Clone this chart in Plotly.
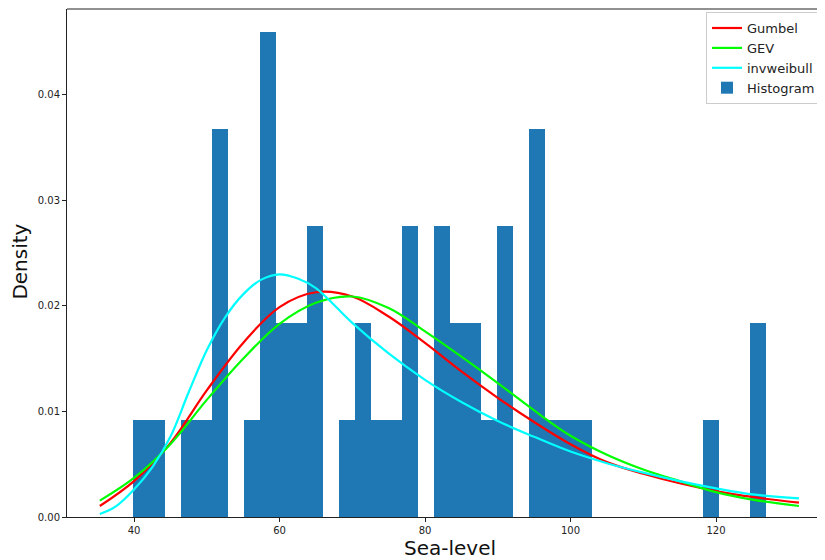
import plotly.graph_objects as go

# ---- data ----
n_samples = 50
data_min = 39.9
data_max = 126.9
bin_counts = [1, 1, 0, 1, 1, 4, 0, 1, 5, 2,
              2, 3, 0, 1, 2, 1, 1, 3, 0, 3,
              2, 2, 1, 3, 0, 4, 1, 1, 1, 0,
              0, 0, 0, 0, 0, 0, 1, 0, 0, 2]

fit_x = [35.3, 40, 45, 50, 55, 60, 65, 70, 75, 80, 85, 90, 95, 100,
         105, 110, 115, 120, 125, 131.4]
gumbel_y = [0.00104, 0.0034, 0.0070, 0.0120, 0.0165, 0.0199, 0.0213, 0.0209,
            0.0190, 0.0165, 0.0138, 0.0113, 0.0090, 0.0069, 0.0052, 0.0041,
            0.0032, 0.00246, 0.0019, 0.00136]
gev_y = [0.00155, 0.0037, 0.0069, 0.0111, 0.0150, 0.0183, 0.0203, 0.0209,
         0.0198, 0.0176, 0.0152, 0.0127, 0.0101, 0.0077, 0.0059, 0.0045,
         0.0034, 0.00236, 0.00165, 0.00104]

invweibull_x = [35.3, 37.5, 40, 42.5, 45, 47.5, 50, 52.5, 55, 57.5, 60, 62.5, 65,
                70, 75, 80, 85, 90, 95, 100, 105, 110, 115, 120, 125, 131.4]
invweibull_y = [0.00028, 0.0010, 0.0026, 0.0047, 0.0076, 0.0118, 0.0158, 0.0189,
                0.0211, 0.0225, 0.0230, 0.0226, 0.0217, 0.0184, 0.0155, 0.0130,
                0.0109, 0.0091, 0.0076, 0.0062, 0.0051, 0.0042, 0.0034, 0.00272,
                0.00215, 0.00177]

x_ticks = [40, 60, 80, 100, 120]
y_ticks = [0.00, 0.01, 0.02, 0.03, 0.04]

# ---- histogram geometry (density) ----
n_bins = len(bin_counts)
bin_w = (data_max - data_min) / n_bins
centers = [data_min + bin_w * (i + 0.5) for i in range(n_bins)]
density = [c / (n_samples * bin_w) for c in bin_counts]

FONT = "DejaVu Sans"
fig = go.Figure()

fig.add_trace(go.Bar(
    x=centers, y=density, width=[bin_w] * n_bins,
    marker=dict(color="#1f77b4", line=dict(width=0)),
    name="Histogram", legendrank=4,
))
fig.add_trace(go.Scatter(x=fit_x, y=gumbel_y, mode="lines", name="Gumbel",
                         line=dict(color="#ff0000", width=2.2, shape="spline"),
                         legendrank=1))
fig.add_trace(go.Scatter(x=fit_x, y=gev_y, mode="lines", name="GEV",
                         line=dict(color="#00ff00", width=2.2, shape="spline"),
                         legendrank=2))
fig.add_trace(go.Scatter(x=invweibull_x, y=invweibull_y, mode="lines", name="invweibull",
                         line=dict(color="#00ffff", width=2.2, shape="spline"),
                         legendrank=3))

# page body has an 8px default margin: figure is sized/offset to compensate
fig.update_layout(
    width=817, height=552,
    margin=dict(l=59, r=0, t=1, b=43),
    paper_bgcolor="white", plot_bgcolor="white",
    font=dict(family=FONT, color="#222222"),
    bargap=0,
    showlegend=True,
    legend=dict(
        x=0.843, y=0.994, xanchor="left", yanchor="top",
        bgcolor="rgba(255,255,255,0.85)", bordercolor="#cccccc", borderwidth=1,
        font=dict(family=FONT, size=13, color="#222222"),
        itemwidth=30, tracegroupgap=0,
    ),
    xaxis=dict(
        range=[30.79, 134.98], tickvals=x_ticks, ticktext=[str(v) for v in x_ticks],
        showgrid=False, zeroline=False, showline=True, linecolor="#222222", linewidth=1,
        ticks="outside", ticklen=4, tickwidth=1, tickcolor="#222222",
        tickfont=dict(family=FONT, size=10, color="#222222"),
    ),
    yaxis=dict(
        range=[0, 0.04815], tickvals=y_ticks, ticktext=["%.2f" % v for v in y_ticks],
        showgrid=False, zeroline=False, showline=True, linecolor="#222222", linewidth=1,
        ticks="outside", ticklen=4, tickwidth=1, tickcolor="#222222",
        tickfont=dict(family=FONT, size=10, color="#222222"),
    ),
    shapes=[dict(type="line", xref="paper", yref="paper", x0=0, x1=1, y0=1, y1=1,
                 line=dict(color="#222222", width=1))],
    annotations=[
        dict(text="Sea-level", xref="paper", yref="paper", x=0.505, y=-0.062,
             xanchor="center", yanchor="middle", showarrow=False,
             font=dict(family=FONT, size=20, color="#111111")),
        dict(text="Density", xref="paper", yref="paper", x=-0.0625, y=0.502,
             xanchor="center", yanchor="middle", textangle=-90, showarrow=False,
             font=dict(family=FONT, size=20, color="#111111")),
    ],
)

fig.write_html("out.html")
